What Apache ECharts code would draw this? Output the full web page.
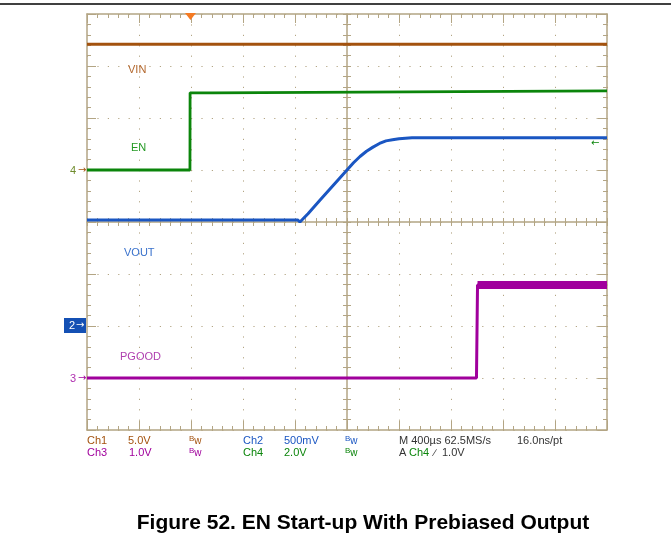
<!DOCTYPE html>
<html>
<head>
<meta charset="utf-8">
<title>EN Start-up With Prebiased Output</title>
<script src="https://cdn.jsdelivr.net/npm/echarts@6/dist/echarts.min.js"></script>
<style>
  html, body { margin: 0; padding: 0; background: #fff; }
  #chart { width: 671px; height: 547px; }
</style>
</head>
<body>
<div id="chart"></div>
<script>
// time in us (400 us/div, trigger at 0), values in volts
const vinTime = [-800, 3200]
const vinVolts = [12.1, 12.1]

const enTime = [-800, -8, -7, 168, 170, 3200]
const enVolts = [0, 0, 2.97, 2.97, 3.04, 3.04]

const voutTime = [-800, 820, 838, 900, 1000, 1100, 1150, 1200, 1250, 1300, 1350, 1400, 1450, 1500, 1550, 1600, 1650, 1700, 1800, 2000, 3200]
const voutVolts = [1.02, 1.02, 1.0, 1.08, 1.22, 1.36, 1.43, 1.5, 1.57, 1.63, 1.68, 1.72, 1.755, 1.78, 1.79, 1.8, 1.805, 1.81, 1.81, 1.81, 1.81]

const pgoodTime = [-800, 2196, 2204, 3200]
const pgoodVolts = [0, 0, 1.79, 1.79]

// channel readout
const chNames = ['Ch1', 'Ch2', 'Ch3', 'Ch4']
const chScales = ['5.0V', '500mV', '1.0V', '2.0V']
const traceNames = ['VIN', 'VOUT', 'PGOOD', 'EN']

const C1 = '#a3520e'
const C2 = '#1a56c2'
const C3 = '#a0009c'
const C4 = '#0b850b'
const GRID = '#b3a584'
const FONT = '"Liberation Sans", Arial, sans-serif'

const pairs = (t, v) => t.map((x, i) => [x, v[i]])

const borderX = (position, split) => ({
  type: 'value', min: -800, max: 3200, interval: 400, position,
  axisLine: { show: true, onZero: false, lineStyle: { color: GRID, width: 1.5 } },
  axisTick: { show: true, inside: true, length: 9, lineStyle: { color: GRID, width: 1 } },
  minorTick: { show: true, splitNumber: 5, length: 4, lineStyle: { color: GRID, width: 1 } },
  axisLabel: { show: false },
  splitLine: { show: split, lineStyle: { color: GRID, width: 1, type: [1.2, 9.2] } }
})

const borderY = (position, split) => ({
  type: 'value', min: -4, max: 4, interval: 1, position,
  axisLine: { show: true, onZero: false, lineStyle: { color: GRID, width: 1.5 } },
  axisTick: { show: true, inside: true, length: 9, lineStyle: { color: GRID, width: 1 } },
  minorTick: { show: true, splitNumber: 5, length: 4, lineStyle: { color: GRID, width: 1 } },
  axisLabel: { show: false },
  splitLine: { show: split, lineStyle: { color: GRID, width: 1, type: [1.2, 9.2] } }
})

// center cross lines: two axes each so the ticks stick out on both sides
const centerX = (inside, line) => ({
  type: 'value', min: -800, max: 3200, interval: 400, position: 'bottom', offset: -208,
  axisLine: { show: line, onZero: false, lineStyle: { color: GRID, width: 1.5 } },
  axisTick: { show: true, inside, length: 4, lineStyle: { color: GRID } },
  minorTick: { show: true, splitNumber: 5, length: 4, lineStyle: { color: GRID } },
  axisLabel: { show: false }, splitLine: { show: false }
})
const centerY = (inside, line) => ({
  type: 'value', min: -4, max: 4, interval: 1, position: 'left', offset: -260,
  axisLine: { show: line, onZero: false, lineStyle: { color: GRID, width: 1.5 } },
  axisTick: { show: true, inside, length: 4, lineStyle: { color: GRID } },
  minorTick: { show: true, splitNumber: 5, length: 4, lineStyle: { color: GRID } },
  axisLabel: { show: false }, splitLine: { show: false }
})

// per channel volts axes (volts/div and ground offset)
const chAxis = (min, max) => ({ type: 'value', min, max, show: false })

const txt = (x, y, s, color, size, align, weight) => ({
  type: 'text', x, y, silent: true, z: 100,
  style: {
    text: s, fill: color, font: `${weight || 'normal'} ${size || 11}px ${FONT}`,
    textAlign: align || 'left', textVerticalAlign: 'middle',
    align: align || 'left', verticalAlign: 'middle'
  }
})
const bw = (x, y, color) => ({
  type: 'text', x, y, silent: true, z: 100,
  style: {
    text: '{b|B}{w|w}', fill: color, textVerticalAlign: 'middle', verticalAlign: 'middle',
    rich: {
      b: { fontSize: 8, fontFamily: FONT, fill: color, padding: [0, 0, 5, 0] },
      w: { fontSize: 10, fontFamily: FONT, fill: color }
    }
  }
})
const arrow = (x, y, color, dir) => ({
  type: 'text', x, y, silent: true, z: 100,
  style: {
    text: dir || '→', fill: color, font: '10px "DejaVu Sans", sans-serif',
    textAlign: 'left', textVerticalAlign: 'middle', align: 'left', verticalAlign: 'middle'
  }
})

const chart = echarts.init(document.getElementById('chart'))

const option = {
  animation: false,
  backgroundColor: '#fff',
  grid: { left: 87, top: 14, width: 520, height: 416, outerBoundsMode: 'none' },
  xAxis: [borderX('bottom', true), borderX('top', false), centerX(false, true), centerX(true, false)],
  yAxis: [
    borderY('left', true), borderY('right', false), centerY(false, true), centerY(true, false),
    chAxis(-25, 15),   // Ch1 5 V/div, ground +1 div
    chAxis(-1, 3),     // Ch2 500 mV/div, ground -2 div
    chAxis(-1, 7),     // Ch3 1 V/div, ground -3 div
    chAxis(-10, 6)     // Ch4 2 V/div, ground +1 div
  ],
  series: [
    { name: 'VIN', type: 'line', yAxisIndex: 4, data: pairs(vinTime, vinVolts), showSymbol: false,
      lineStyle: { color: C1, width: 3 }, z: 3 },
    { name: 'EN', type: 'line', yAxisIndex: 7, data: pairs(enTime, enVolts), showSymbol: false,
      lineStyle: { color: C4, width: 2.8 }, z: 3 },
    { name: 'VOUT', type: 'line', yAxisIndex: 5, data: pairs(voutTime, voutVolts), showSymbol: false,
      lineStyle: { color: C2, width: 3 }, z: 4 },
    { name: 'PGOOD', type: 'line', yAxisIndex: 6, data: pairs(pgoodTime, pgoodVolts), showSymbol: false,
      lineStyle: { color: C3, width: 3 }, z: 3 },
    // noisy high level of PGOOD shows as a thick band
    { name: 'PGOOD band', type: 'line', yAxisIndex: 6,
      data: pairs(pgoodTime, pgoodVolts).filter(p => p[1] > 1), showSymbol: false,
      lineStyle: { color: C3, width: 8 }, z: 3 }
  ],
  graphic: [
    { type: 'line', shape: { x1: 0, y1: 4, x2: 671, y2: 4 }, style: { stroke: '#000', lineWidth: 1.5 }, silent: true },
    // trigger position
    { type: 'polygon', z: 100, shape: { points: [[185, 13], [196, 13], [190.5, 20]] }, style: { fill: '#f57a22' }, silent: true },
    // trigger level
    arrow(591, 143, C4, '←'),
    // ground markers
    txt(70, 171, '4', '#6f8c2c', 11), arrow(78, 170, C1),
    { type: 'rect', z: 90, shape: { x: 64, y: 318, width: 22, height: 15 }, style: { fill: '#1450b4' }, silent: true },
    txt(69, 326, '2', '#fff', 11), arrow(76, 325, '#fff'),
    txt(70, 379, '3', '#b030b0', 11), arrow(78, 378, C3),
    // trace labels
    txt(128, 70, traceNames[0], '#b3682e', 11),
    txt(131, 148, traceNames[3], '#249a24', 11),
    txt(124, 253, traceNames[1], '#3a72cc', 11),
    txt(120, 357, traceNames[2], '#b040b0', 11),
    // readout
    txt(87, 441, chNames[0], C1, 11), txt(128, 441, chScales[0], C1, 11), bw(189, 441, C1),
    txt(243, 441, chNames[1], C2, 11), txt(284, 441, chScales[1], C2, 11), bw(345, 441, C2),
    txt(399, 441, 'M 400\u00b5s 62.5MS/s', '#333', 11), txt(517, 441, '16.0ns/pt', '#333', 11),
    txt(87, 453, chNames[2], C3, 11), txt(129, 453, chScales[2], C3, 11), bw(189, 453, C3),
    txt(243, 453, chNames[3], C4, 11), txt(284, 453, chScales[3], C4, 11), bw(345, 453, C4),
    txt(399, 453, 'A', '#333', 11), txt(409, 453, chNames[3], C4, 11),
    txt(434, 453, '\u2215', '#333', 10), txt(442, 453, '1.0V', '#333', 11),
    // caption
    txt(363, 523, 'Figure 52. EN Start-up With Prebiased Output', '#000', 21, 'center', 'bold')
  ]
}

chart.setOption(option)
window.addEventListener('resize', () => chart.resize())
</script>
</body>
</html>
